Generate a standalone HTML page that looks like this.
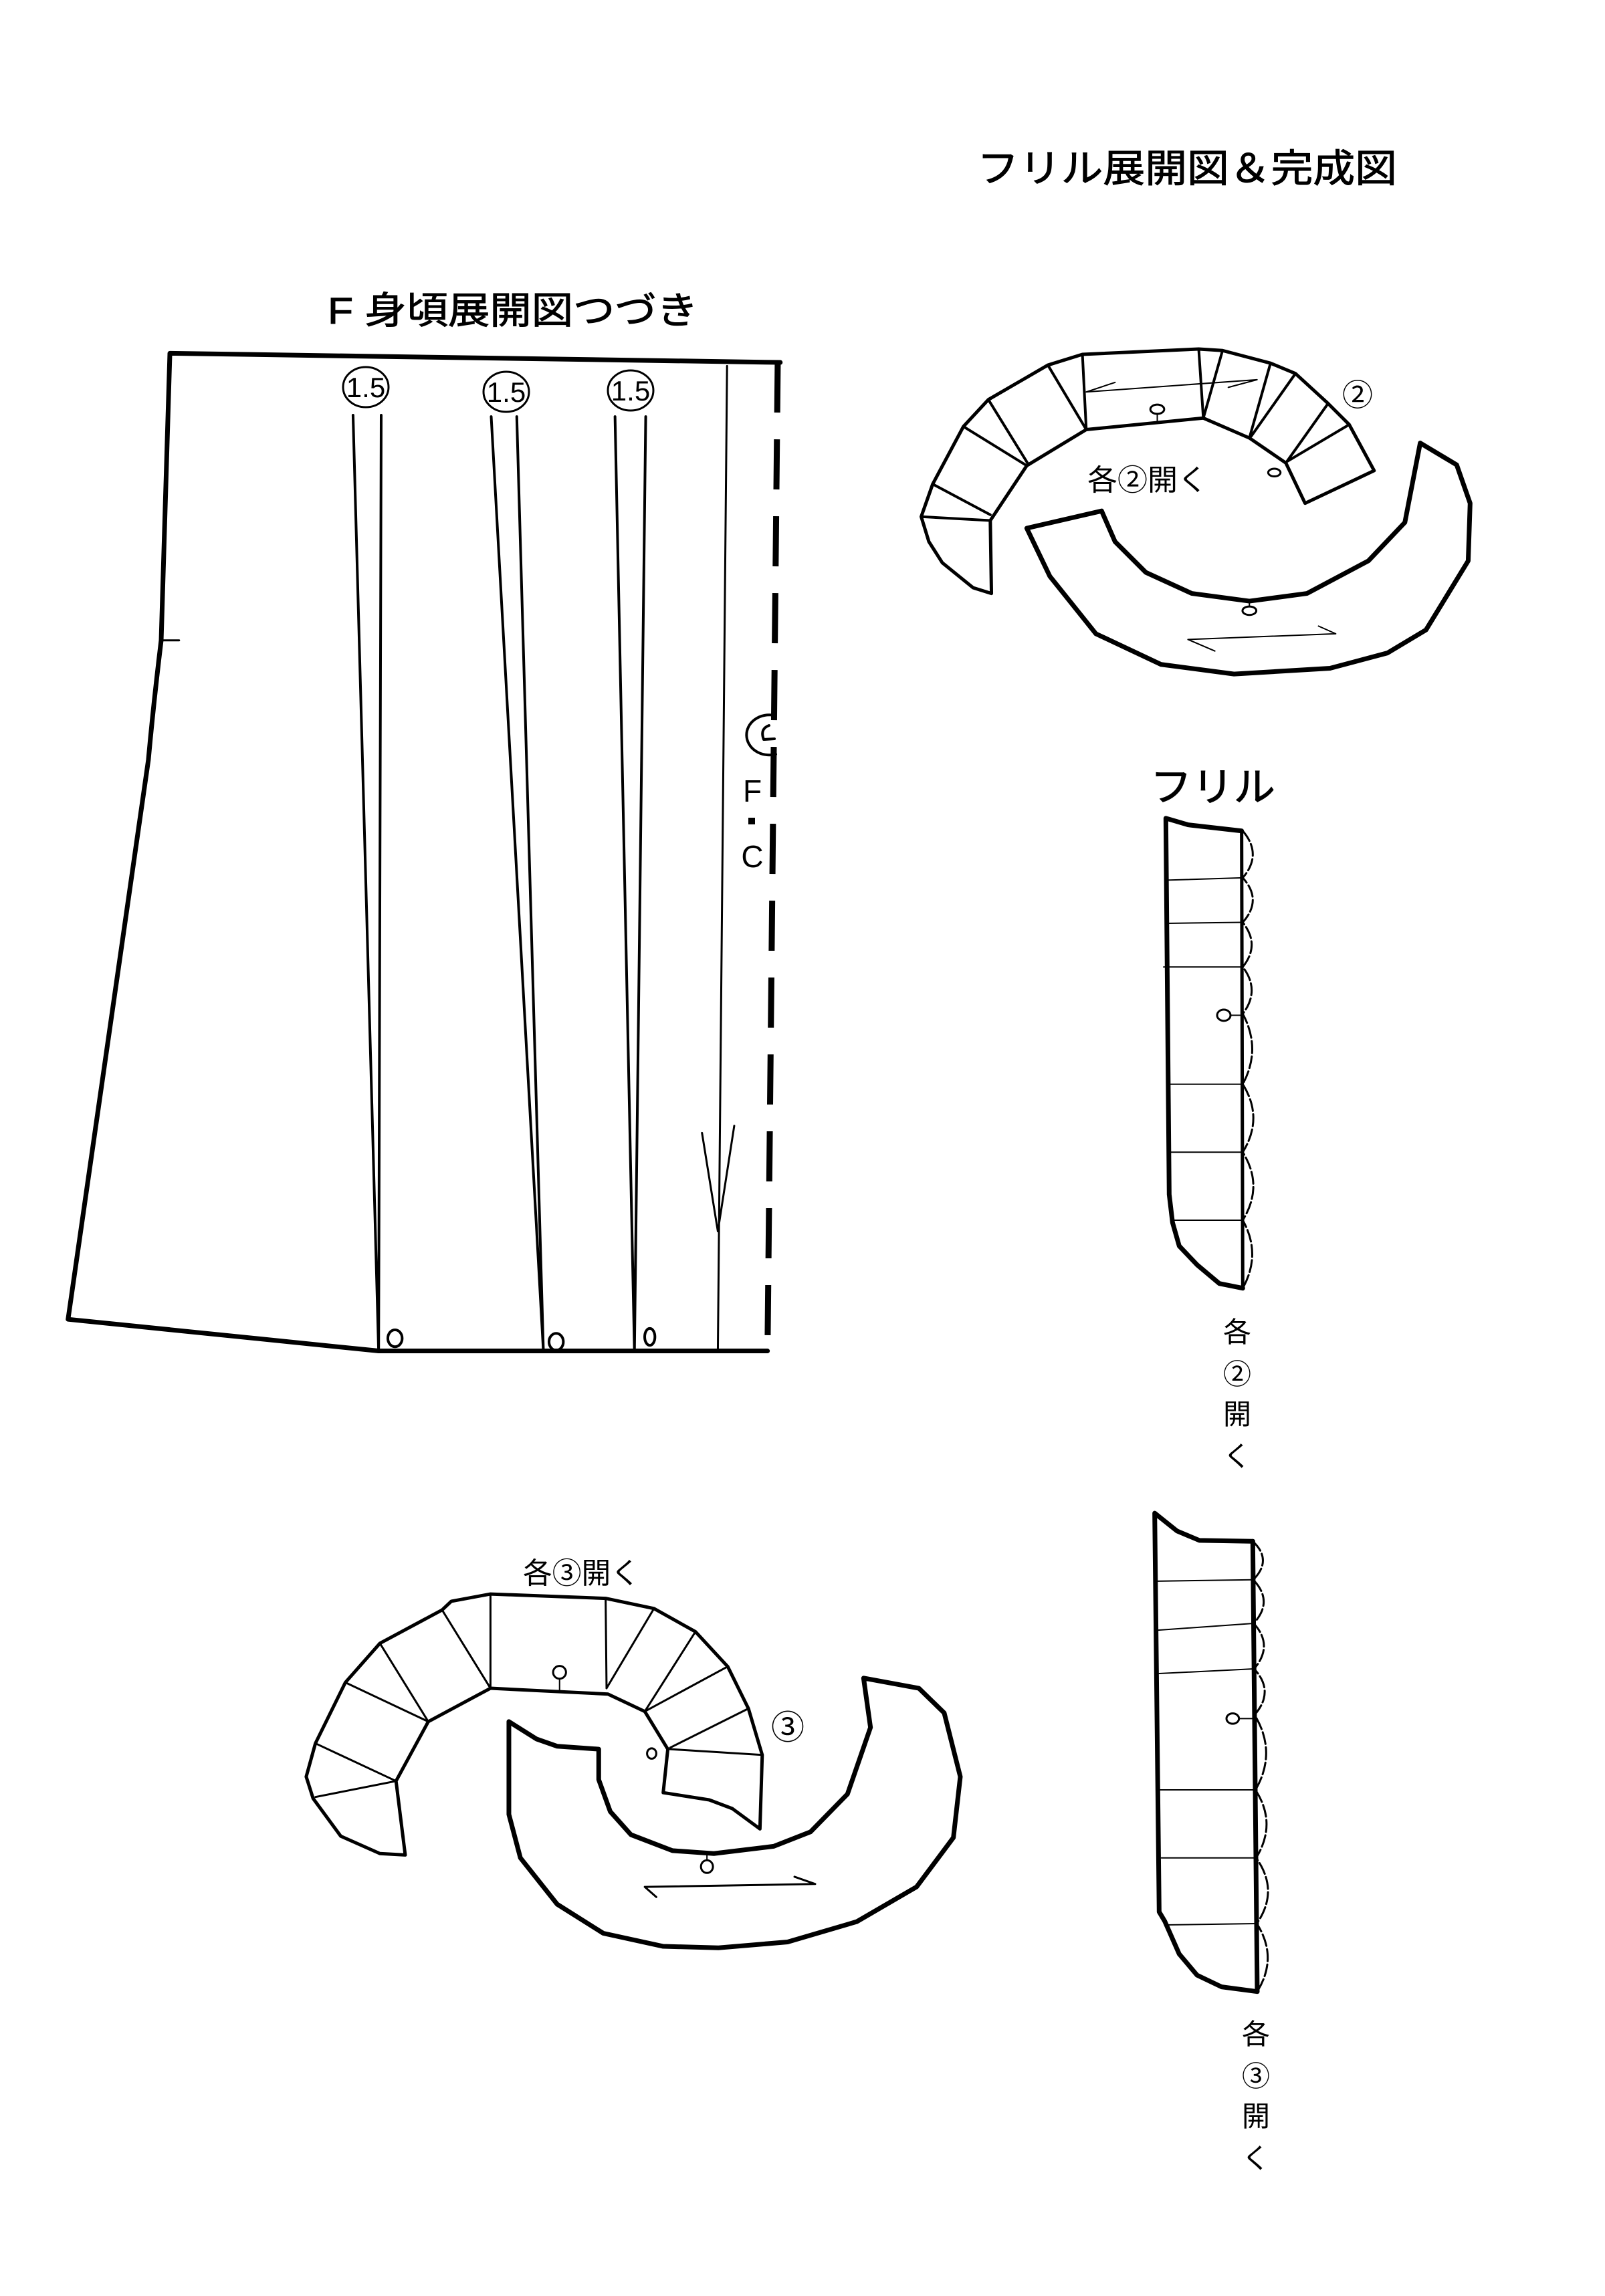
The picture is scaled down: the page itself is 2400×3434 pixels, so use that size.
<!DOCTYPE html>
<html><head><meta charset="utf-8"><style>
html,body{margin:0;padding:0;background:#fff}
svg{display:block}
text{font-family:"Liberation Sans","Noto Sans CJK JP",sans-serif;fill:#000}
.s{fill:none;stroke:#000;vector-effect:non-scaling-stroke;stroke-linejoin:round;stroke-linecap:round}
</style></head><body>
<svg width="2400" height="3434" viewBox="0 0 2400 3434" xmlns="http://www.w3.org/2000/svg">
<rect width="2400" height="3434" fill="#fff"/>

<text x="1461" y="272" font-size="58" textLength="628" lengthAdjust="spacingAndGlyphs" stroke="#000" stroke-width="1">フリル展開図＆完成図</text>
<text x="490" y="484" font-size="56" textLength="554" lengthAdjust="spacingAndGlyphs" stroke="#000" stroke-width="1">F 身頃展開図つづき</text>

<g transform="translate(0,400) scale(0.7651,1.0523)">
<path class="s" stroke-width="7" d="M1525,135 L332,122 Q322,350 315,530 Q300,620 290,700 L133,1495 L740,1540 L1500,1540"/>
<path class="s" stroke-width="3" d="M315,530 L350,530"/>
<path class="s" stroke-width="9" stroke-dasharray="75 40" style="stroke-linecap:butt" d="M1520,135 L1500,1545"/>
<path class="s" stroke-width="4" d="M690,210 L740,1540 L745,210 M960,212 L1062,1540 L1010,212 M1202,212 L1240,1540 L1262,212"/>
<path class="s" stroke-width="3" d="M1421,140 L1403,1540 M1372,1230 L1403,1370 L1435,1220"/>
<ellipse class="s" stroke-width="4" cx="772" cy="1522" rx="14" ry="12"/>
<ellipse class="s" stroke-width="4" cx="1087" cy="1527" rx="14" ry="12"/>
<ellipse class="s" stroke-width="4" cx="1270" cy="1520" rx="10" ry="12"/>
</g>
<ellipse class="s" stroke-width="3" cx="547" cy="579" rx="34" ry="30"/>
<ellipse class="s" stroke-width="3" cx="757" cy="586" rx="34" ry="30"/>
<ellipse class="s" stroke-width="3" cx="943" cy="584" rx="34" ry="30"/>
<text x="547" y="594" font-size="42" text-anchor="middle">1.5</text>
<text x="757" y="601" font-size="42" text-anchor="middle">1.5</text>
<text x="943" y="599" font-size="42" text-anchor="middle">1.5</text>
<path class="s" stroke-width="4" d="M1158,1070 A34,30 0 1 0 1160,1128 M1158,1105 L1142,1106 Q1136,1090 1150,1085"/>
<text x="1125" y="1199" font-size="46" text-anchor="middle">F</text>
<rect x="1119" y="1223" width="10" height="10" fill="#000"/>
<text x="1125" y="1297" font-size="46" text-anchor="middle">C</text>

<g transform="translate(1300,150) scale(0.574)">
<path class="s" stroke-width="5" d="M135,1085 L165,1000 L245,850 L310,780 L465,690 L555,662 L858,648 L920,652 L1045,685 L1110,712 L1195,790 L1250,845 L1315,965 L1135,1050 L1085,945 L990,880 L870,828 L565,858 L410,952 L315,1095 L318,1285 L270,1270 L190,1205 L155,1150 Z"/>
<path class="s" stroke-width="4" d="M165,1000 L315,1080 M135,1085 L315,1095 M245,850 L410,952 M310,780 L415,950 M465,690 L565,858 M555,662 L565,858 M858,648 L870,828 M920,652 L870,828 M1045,685 L990,880 M1110,712 L995,875 M1195,790 L1085,945 M1250,845 L1090,940"/>
<path class="s" stroke-width="2" d="M565,760 L1010,728 L935,748 M565,760 L640,735"/>
<ellipse class="s" stroke-width="3" cx="750" cy="805" rx="18" ry="12"/>
<path class="s" stroke-width="2" d="M750,817 L750,842"/>
<ellipse class="s" stroke-width="3" cx="1055" cy="970" rx="16" ry="10"/>
<path class="s" stroke-width="7" d="M410,1115 L605,1070 L640,1150 L720,1230 L840,1285 L990,1305 L1140,1285 L1300,1200 L1395,1100 L1435,893 L1530,950 L1565,1050 L1560,1200 L1450,1380 L1350,1440 L1200,1480 L950,1495 L760,1470 L590,1390 L470,1240 Z"/>
<path class="s" stroke-width="2" d="M830,1405 L1215,1390 L1170,1370 M830,1405 L900,1435"/>
<ellipse class="s" stroke-width="3" cx="990" cy="1330" rx="18" ry="11"/>
<path class="s" stroke-width="2" d="M990,1319 L990,1305"/>
</g>
<text x="1626" y="733" font-size="44" textLength="180" lengthAdjust="spacingAndGlyphs">各②開く</text>
<text x="2007" y="607" font-size="46">②</text>

<g transform="translate(420,2280) scale(0.6888,0.4337)">
<path class="s" stroke-width="5" d="M270,1140 L215,1135 L130,1075 L70,945 L55,870 L75,755 L140,545 L215,410 L350,295 L370,265 L455,240 L705,255 L810,290 L900,370 L970,490 L1015,635 L1045,795 L1040,1050 L980,980 L930,950 L830,925 L840,775 L790,645 L710,585 L455,565 L320,680 L250,885 Z"/>
<path class="s" stroke-width="3" d="M75,940 L250,885 M75,755 L250,885 M140,545 L320,680 M215,410 L320,680 M350,295 L455,565 M455,240 L455,565 M705,255 L707,565 M810,290 L707,565 M900,370 L790,645 M970,490 L790,645 M1015,635 L845,770 M845,775 L1045,795"/>
<ellipse class="s" stroke-width="3" cx="605" cy="510" rx="14" ry="22"/>
<path class="s" stroke-width="2" d="M605,532 L605,575"/>
<ellipse class="s" stroke-width="3" cx="805" cy="790" rx="10" ry="18"/>
<path class="s" stroke-width="7" d="M495,680 L495,1000 L520,1150 L600,1310 L700,1410 L830,1455 L950,1460 L1100,1440 L1250,1370 L1380,1250 L1460,1080 L1475,870 L1440,650 L1385,565 L1265,530 L1280,700 L1230,930 L1150,1060 L1070,1110 L940,1135 L850,1125 L760,1070 L715,990 L690,880 L690,775 L600,765 L555,740 Z"/>
<path class="s" stroke-width="3" d="M790,1250 L1160,1240 L1115,1215 M790,1250 L815,1285"/>
<ellipse class="s" stroke-width="3" cx="925" cy="1180" rx="13" ry="22"/>
<path class="s" stroke-width="2" d="M925,1158 L925,1140"/>
</g>
<text x="782" y="2368" font-size="44" textLength="175" lengthAdjust="spacingAndGlyphs">各③開く</text>
<text x="1153" y="2601" font-size="50">③</text>

<text x="1720" y="1198" font-size="60" textLength="187" lengthAdjust="spacingAndGlyphs" stroke="#000" stroke-width="1">フリル</text>
<g transform="translate(1680,1120) scale(0.3333,0.7015)">
<path class="s" stroke-width="7" d="M530,175 L290,162 L190,148 L205,950 L220,1010 L250,1060 L330,1100 L430,1140 L535,1150"/>
<path class="s" stroke-width="5" d="M530,175 L535,1150"/>
<path class="s" stroke-width="2" d="M195,280 L535,275 M195,372 L535,370 M180,465 L535,465 M205,715 L535,715 M210,860 L535,860 M220,1005 L535,1005"/>
<path class="s" stroke-width="3" stroke-dasharray="18 5" d="M535,175 Q625,225 535,275 Q625,322 535,370 Q615,418 535,465 Q615,515 535,565 Q620,640 535,715 Q630,787 535,860 Q630,932 535,1005 Q620,1077 535,1150"/>
<ellipse class="s" stroke-width="3" cx="450" cy="568" rx="30" ry="12"/>
<path class="s" stroke-width="2" d="M480,568 L535,568"/>
</g>
<g font-size="42" text-anchor="middle">
<text x="1850" y="2007">各</text><text x="1850" y="2070">②</text><text x="1850" y="2130">開</text><text x="1850" y="2193">く</text>
</g>

<g transform="translate(1680,2200) scale(0.3333,0.7015)">
<path class="s" stroke-width="7" d="M580,150 L340,148 L240,128 L140,90 L160,940 L185,960 L250,1030 L330,1075 L440,1100 L600,1110"/>
<path class="s" stroke-width="7" d="M580,150 L600,1110"/>
<path class="s" stroke-width="2" d="M150,235 L582,232 M140,340 L584,325 M160,432 L586,422 M165,680 L592,680 M170,825 L595,825 M185,968 L598,965"/>
<path class="s" stroke-width="3" stroke-dasharray="18 5" d="M580,150 Q670,190 582,232 Q675,278 584,325 Q675,372 586,422 Q680,470 588,520 Q690,600 592,680 Q690,752 595,825 Q700,895 598,965 Q695,1037 600,1110"/>
<ellipse class="s" stroke-width="3" cx="490" cy="528" rx="28" ry="11"/>
<path class="s" stroke-width="2" d="M518,528 L590,528"/>
</g>
<g font-size="42" text-anchor="middle">
<text x="1878" y="3057">各</text><text x="1878" y="3120">③</text><text x="1878" y="3180">開</text><text x="1878" y="3243">く</text>
</g>
</svg>
</body></html>
